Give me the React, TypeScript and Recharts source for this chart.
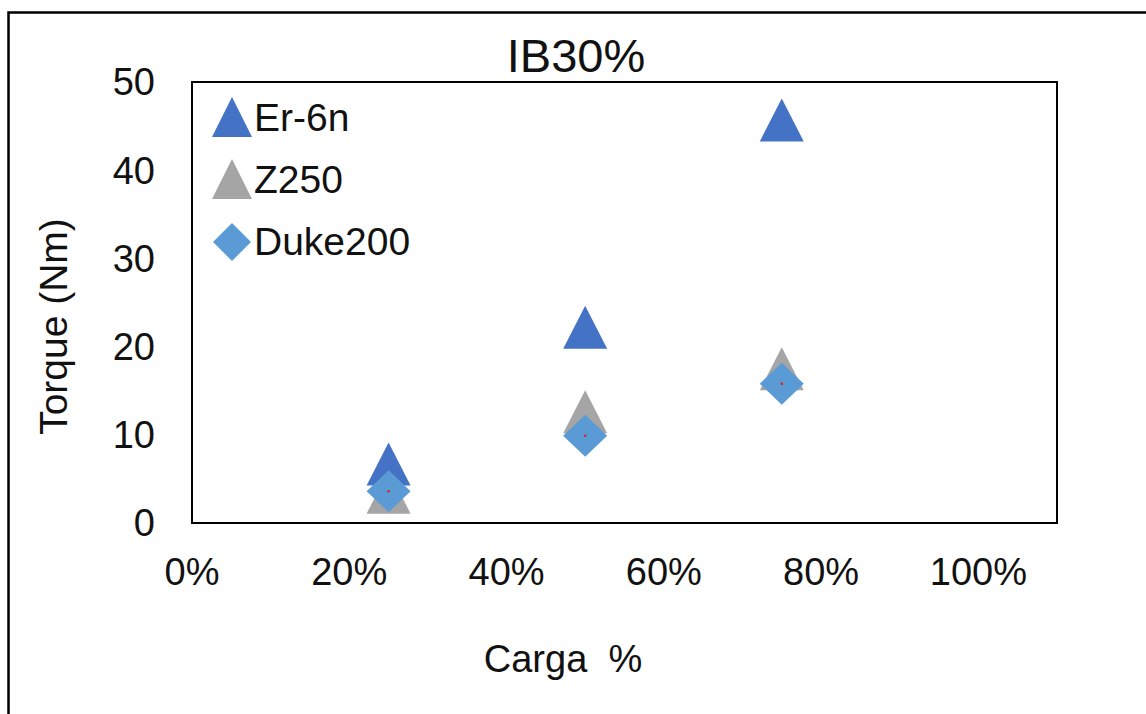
import React from 'react';
import { ScatterChart, Scatter, XAxis, YAxis, ReferenceArea } from 'recharts';

const loadLevels = [0.25, 0.5, 0.75];
const er6nValues = [6.7, 22.2, 45.7];
const z250Values = [3.5, 12.6, 17.5];
const duke200Values = [3.6, 9.9, 15.8];
const xTicks = [0, 0.2, 0.4, 0.6, 0.8, 1.0];
const yTicks = [0, 10, 20, 30, 40, 50];
const seriesNames = ['Er-6n', 'Z250', 'Duke200'];
const seriesColors = ['#4472C4', '#A5A5A5', '#5B9BD5'];
const seriesShapes = ['triangle', 'triangle', 'diamond'];
const title = 'IB30%';
const xLabel = 'Carga\u00A0\u00A0%';
const yLabel = 'Torque (Nm)';

const toPoints = (vals: number[]) => loadLevels.map((x, i) => ({ x, y: vals[i] }));
const seriesData = [toPoints(er6nValues), toPoints(z250Values), toPoints(duke200Values)];

const FONT = '"Liberation Sans", Arial, sans-serif';

const makeShape = (kind: string, color: string) => (props: any) => {
  const { cx, cy } = props;
  if (cx == null || cy == null) return <g />;
  if (kind === 'triangle') {
    return (
      <polygon
        points={`${cx},${cy - 21.5} ${cx - 22},${cy + 21.5} ${cx + 22},${cy + 21.5}`}
        fill={color}
      />
    );
  }
  return (
    <g>
      <polygon
        points={`${cx},${cy - 21} ${cx + 22},${cy} ${cx},${cy + 21} ${cx - 22},${cy}`}
        fill={color}
      />
      <circle cx={cx} cy={cy} r={1.3} fill="#E0202A" />
    </g>
  );
};

const LegendMarker = ({ kind, color }: { kind: string; color: string }) => (
  <svg width={44} height={44} style={{ display: 'block' }}>
    {kind === 'triangle' ? (
      <polygon points="21,1 1,41 41,41" fill={color} />
    ) : (
      <polygon points="21,3 40,22 21,41 2,22" fill={color} />
    )}
  </svg>
);

export default function App() {
  return (
    <div style={{ position: 'absolute', left: 0, top: 0, width: 1146, height: 714, background: '#fff', overflow: 'hidden' }}>
      <div style={{ position: 'absolute', left: 0, top: 0 }}>
        <ScatterChart width={1146} height={714} margin={{ top: 82, right: 89, bottom: 131, left: 132 }}>
          <XAxis
            type="number"
            dataKey="x"
            domain={[0, 1.1]}
            ticks={xTicks}
            height={60}
            allowDataOverflow
            tickFormatter={(v: number) => `${Math.round(v * 100)}%`}
            axisLine={{ stroke: '#000', strokeWidth: 2 }}
            tickLine={false}
            tickSize={0}
            tickMargin={35}
            tick={{ fill: '#111', fontSize: 38, fontFamily: FONT }}
          />
          <YAxis
            type="number"
            dataKey="y"
            domain={[0, 50]}
            ticks={yTicks}
            width={60}
            allowDataOverflow
            axisLine={{ stroke: '#000', strokeWidth: 2 }}
            tickLine={false}
            tickSize={0}
            tickMargin={37}
            tick={{ fill: '#111', fontSize: 38, fontFamily: FONT }}
          />
          <ReferenceArea x1={0} x2={1.1} y1={0} y2={50} fill="none" fillOpacity={0} stroke="#000" strokeWidth={2} strokeOpacity={1} />
          {seriesNames.map((name, i) => (
            <Scatter
              key={name}
              name={name}
              data={seriesData[i]}
              fill={seriesColors[i]}
              shape={makeShape(seriesShapes[i], seriesColors[i])}
              isAnimationActive={false}
            />
          ))}
        </ScatterChart>
      </div>
      <svg width={1146} height={714} style={{ position: 'absolute', left: 0, top: 0, pointerEvents: 'none' }}>
        <rect x={8.5} y={12.5} width={1300} height={900} fill="none" stroke="#000" strokeWidth={2.5} />
        <text x={576} y={71.5} textAnchor="middle" fontSize={47} fontFamily={FONT} fill="#111">
          {title}
        </text>
        <text x={563} y={672} textAnchor="middle" fontSize={38} fontFamily={FONT} fill="#111">
          {xLabel}
        </text>
        <text
          x={0}
          y={0}
          transform="translate(66.5,326.5) rotate(-90)"
          textAnchor="middle"
          fontSize={39}
          fontFamily={FONT}
          fill="#111"
        >
          {yLabel}
        </text>
      </svg>
      <div style={{ position: 'absolute', left: 211, top: 87, fontFamily: FONT, fontSize: 39, color: '#111' }}>
        {seriesNames.map((name) => (
          <div key={name} style={{ display: 'flex', alignItems: 'center', height: 62 }}>
            <LegendMarker kind={seriesShapes[seriesNames.indexOf(name)]} color={seriesColors[seriesNames.indexOf(name)]} />
            <span style={{ marginLeft: -1, lineHeight: '44px' }}>{name}</span>
          </div>
        ))}
      </div>
    </div>
  );
}
